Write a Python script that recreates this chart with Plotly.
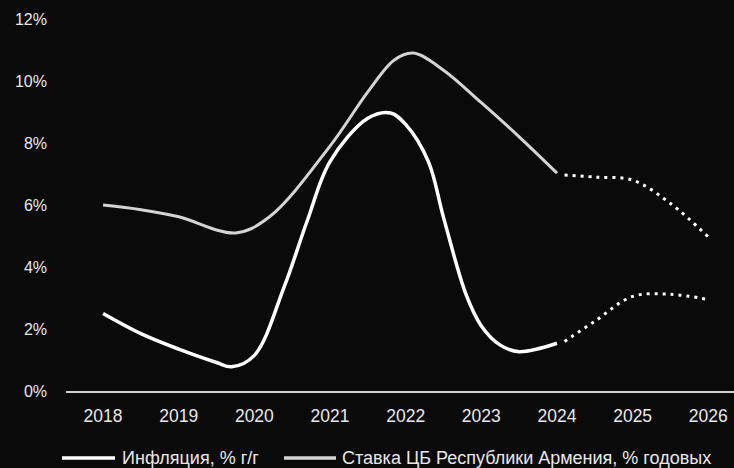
import plotly.graph_objects as go

# Inflation, % y/y (fractional years where the curve bends)
infl_x = [2018.0, 2018.5, 2019.0, 2019.5, 2019.7, 2020.0, 2020.4, 2020.7, 2021.0, 2021.5, 2021.8, 2022.0, 2022.3, 2022.5, 2022.8, 2023.0, 2023.25, 2023.5, 2024.0]
infl_y = [2.5, 1.85, 1.35, 0.92, 0.78, 1.15, 3.4, 5.5, 7.4, 8.8, 8.97, 8.6, 7.4, 5.6, 3.1, 2.1, 1.48, 1.27, 1.54]
infl_fx = [2024.1, 2024.5, 2025.0, 2025.5, 2026.0]
infl_fy = [1.6, 2.25, 3.05, 3.12, 2.95]

# Central bank rate, % p.a.
rate_x = [2018.0, 2018.5, 2019.0, 2019.75, 2020.2, 2021.0, 2021.5, 2021.85, 2022.1, 2022.5, 2023.0, 2023.5, 2024.0]
rate_y = [6.0, 5.85, 5.62, 5.1, 5.62, 7.9, 9.65, 10.68, 10.9, 10.35, 9.3, 8.2, 7.03]
rate_fx = [2024.1, 2024.5, 2025.0, 2025.5, 2026.0]
rate_fy = [6.97, 6.9, 6.8, 6.05, 4.97]

years = [2018, 2019, 2020, 2021, 2022, 2023, 2024, 2025, 2026]
yticks = [0, 2, 4, 6, 8, 10, 12]
ytick_text = ["0%", "2%", "4%", "6%", "8%", "10%", "12%"]

infl_name = "Инфляция, % г/г"
rate_name = "Ставка ЦБ Республики Армения, % годовых"

infl_color = "#ffffff"
rate_color = "#d4d4d4"
text_color = "#e8e8e8"
bg = "#0a0a0a"
font = "Liberation Sans, Arial, sans-serif"

fig = go.Figure()
fig.add_trace(go.Scatter(x=infl_x, y=infl_y, mode="lines", name=infl_name, showlegend=False,
                         line=dict(color=infl_color, width=3.5, shape="spline", smoothing=1.0)))
fig.add_trace(go.Scatter(x=rate_x, y=rate_y, mode="lines", name=rate_name, showlegend=False,
                         line=dict(color=rate_color, width=3, shape="spline", smoothing=1.0)))
fig.add_trace(go.Scatter(x=infl_fx, y=infl_fy, mode="lines", showlegend=False, name=infl_name + " (прогноз)",
                         line=dict(color=infl_color, width=3, shape="spline", smoothing=1.0, dash="3px,5px")))
fig.add_trace(go.Scatter(x=rate_fx, y=rate_fy, mode="lines", showlegend=False, name=rate_name + " (прогноз)",
                         line=dict(color=infl_color, width=3, shape="spline", smoothing=1.0, dash="3px,5px")))

# Legend drawn in the bottom margin (paper coordinates)
L, T, W, H = 66, 19, 668, 372
def px(xp):
    return (xp - L) / W
def py(yp):
    return (T + H - yp) / H

legend_y = 458
legend_items = [(infl_name, infl_color, 62, 115, 120), (rate_name, rate_color, 284, 336, 340)]
shapes = []
annotations = []
for name, color, x0, x1, xt in legend_items:
    shapes.append(dict(type="line", xref="paper", yref="paper", x0=px(x0), x1=px(x1),
                       y0=py(legend_y), y1=py(legend_y), line=dict(color=color, width=3.5)))
    annotations.append(dict(text=name, xref="paper", yref="paper", x=px(xt), y=py(legend_y),
                            xanchor="left", yanchor="middle", showarrow=False,
                            font=dict(size=18, color=text_color, family=font)))

fig.update_layout(
    width=734, height=468,
    paper_bgcolor=bg, plot_bgcolor=bg,
    margin=dict(l=L, r=0, t=T, b=468 - T - H),
    font=dict(family=font, color=text_color, size=16),
    showlegend=False,
    shapes=shapes,
    annotations=annotations,
    xaxis=dict(range=[2017.51, 2026.34], tickvals=years, ticktext=[str(y) for y in years],
               showgrid=False, zeroline=False, showline=True, linecolor="#d0d0d0", linewidth=2,
               ticks="", ticklabelstandoff=8, tickfont=dict(size=17.5)),
    yaxis=dict(range=[0, 12], tickvals=yticks, ticktext=ytick_text, showgrid=False,
               zeroline=False, showline=False, ticks="", ticklabelstandoff=18,
               tickfont=dict(size=16)),
)

fig.write_html("out.html", config={"displayModeBar": False},
               post_script="document.body.style.margin='0';document.body.style.background='%s';" % bg)
